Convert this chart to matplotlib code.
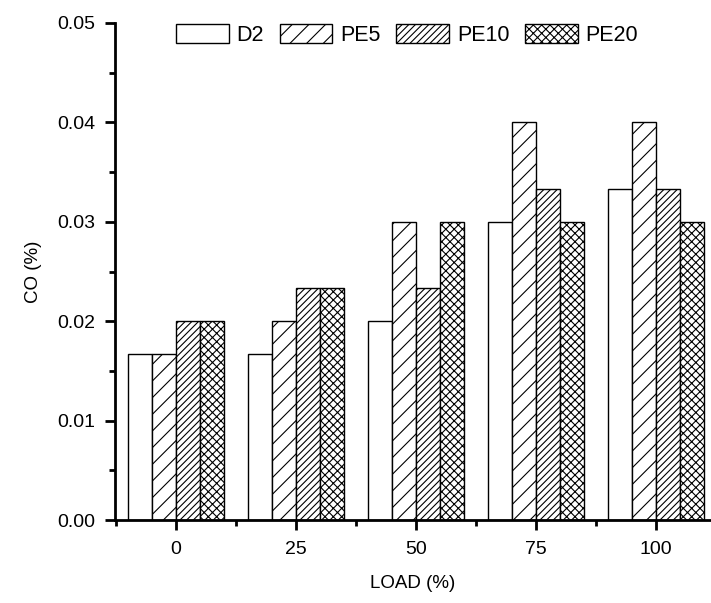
import matplotlib.pyplot as plt
import numpy as np

plt.rcParams['font.family'] = ['Liberation Sans', 'DejaVu Sans']
plt.rcParams['hatch.linewidth'] = 0.8

loads = ['0', '25', '50', '75', '100']
series = ['D2', 'PE5', 'PE10', 'PE20']
d2 = [0.0167, 0.0167, 0.0200, 0.0300, 0.0333]
pe5 = [0.0167, 0.0200, 0.0300, 0.0400, 0.0400]
pe10 = [0.0200, 0.0233, 0.0233, 0.0333, 0.0333]
pe20 = [0.0200, 0.0233, 0.0300, 0.0300, 0.0300]
hatches = ['', '//', '/////', 'xxxx']

fig = plt.figure(figsize=(7.11, 6.03), dpi=100)
ax = fig.add_axes([0.1617, 0.1376, 0.8383, 0.8243])

x = np.arange(len(loads))
w = 0.2
for i, (name, vals) in enumerate(zip(series, [d2, pe5, pe10, pe20])):
    ax.bar(x + (i - 1.5) * w, vals, w, color='white', edgecolor='black',
           linewidth=1.0, hatch=hatches[i], label=name)

ax.set_xlim(-0.51, 4.46)
ax.set_ylim(0, 0.05)
ax.set_xticks(x)
ax.set_xticklabels(loads)
ax.set_xticks(np.arange(-0.5, 4.5, 1), minor=True)
ax.set_yticks(np.arange(0, 0.051, 0.01))
ax.set_yticklabels(['0.00', '0.01', '0.02', '0.03', '0.04', '0.05'])
ax.set_yticks(np.arange(0.005, 0.05, 0.01), minor=True)

for s in ['top', 'right']:
    ax.spines[s].set_visible(False)
for s in ['left', 'bottom']:
    ax.spines[s].set_linewidth(2)
ax.tick_params(which='major', direction='out', length=7, width=2, labelsize=14)
ax.tick_params(axis='y', which='major', pad=7)
ax.tick_params(axis='x', which='major', pad=8)
ax.tick_params(which='minor', direction='out', length=4, width=2)

ax.set_xlabel('LOAD (%)', fontsize=13.5, labelpad=12)
ax.set_ylabel('CO (%)', fontsize=13.5, labelpad=11)

ax.legend(ncol=4, frameon=False, loc='upper left', bbox_to_anchor=(0.102, 0.998),
          borderpad=0, borderaxespad=0, fontsize=15.5, handlelength=2.45,
          handleheight=1.0, columnspacing=0.75, handletextpad=0.35)

fig.savefig('out.png', dpi=100)
